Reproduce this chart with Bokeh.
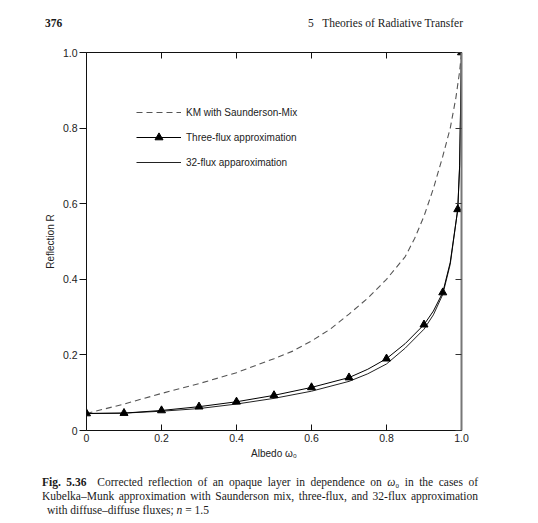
from bokeh.plotting import figure
from bokeh.models import (Range1d, LinearAxis, FixedTicker, PrintfTickFormatter,
                          Legend, LegendItem, Div)
from bokeh.layouts import column
from bokeh.embed import file_html
from bokeh.resources import INLINE

# ---- data ----
km_x = [0, 0.1, 0.2, 0.3, 0.4, 0.5, 0.55, 0.6, 0.65, 0.7, 0.75, 0.8, 0.85, 0.875,
        0.9, 0.925, 0.95, 0.97, 0.985, 0.995, 1.0]
km_r = [0.045, 0.070, 0.098, 0.124, 0.153, 0.190, 0.210, 0.237, 0.268, 0.308, 0.350, 0.400,
        0.460, 0.508, 0.567, 0.640, 0.725, 0.800, 0.880, 0.950, 1.0]

# three-flux markers
three_x = [0, 0.1, 0.2, 0.3, 0.4, 0.5, 0.6, 0.7, 0.8, 0.9, 0.95, 0.99, 1.0]
three_r = [0.045, 0.046, 0.053, 0.063, 0.076, 0.093, 0.114, 0.140, 0.190, 0.280, 0.365, 0.585, 1.0]
# three-flux curve
three_line_x = [0, 0.1, 0.2, 0.3, 0.4, 0.5, 0.6, 0.7, 0.75, 0.8, 0.85, 0.9, 0.925, 0.95,
                0.97, 0.99, 0.995, 1.0]
three_line_r = [0.045, 0.046, 0.053, 0.063, 0.076, 0.093, 0.114, 0.140, 0.162, 0.190, 0.230,
                0.280, 0.316, 0.365, 0.445, 0.585, 0.700, 1.0]

flux32_x = [0, 0.1, 0.2, 0.3, 0.4, 0.5, 0.6, 0.7, 0.75, 0.8, 0.85, 0.9, 0.925, 0.95, 0.97,
            0.99, 0.995, 1.0]
flux32_r = [0.045, 0.046, 0.051, 0.058, 0.070, 0.085, 0.104, 0.130, 0.150, 0.176, 0.218,
            0.268, 0.306, 0.360, 0.440, 0.585, 0.700, 1.0]

ticks = [0, 0.2, 0.4, 0.6, 0.8, 1.0]
label_km = "KM with Saunderson-Mix"
label_three = "Three-flux approximation"
label_32 = "32-flux apparoximation"

SANS = "Liberation Sans"
W = 530

p = figure(width=W, height=424, output_backend="svg", toolbar_location=None,
           x_range=Range1d(0, 1.0), y_range=Range1d(0, 1.0),
           min_border_left=86, min_border_right=69, min_border_top=14, min_border_bottom=32,
           x_axis_label="Albedo ω₀", y_axis_label="Reflection R")
p.outline_line_color = None
p.grid.visible = False
p.background_fill_color = "white"
p.border_fill_color = "white"

for ax in (p.xaxis[0], p.yaxis[0]):
    ax.ticker = FixedTicker(ticks=ticks)
    ax.formatter = PrintfTickFormatter(format="%.1f")
    ax.major_label_overrides = {0: "0"}
    ax.minor_tick_line_color = None
    ax.major_label_text_font = SANS
    ax.major_label_text_font_size = "10.5px"
    ax.major_label_text_color = "#222222"
    ax.axis_label_text_font = SANS
    ax.axis_label_text_font_size = "10px"
    ax.axis_label_text_font_style = "normal"
    ax.axis_label_text_color = "#222222"
    ax.axis_line_color = "#111111"
    ax.major_tick_line_color = "#111111"

p.xaxis.major_tick_in = 6
p.xaxis.major_tick_out = 0
p.xaxis.major_label_standoff = 3
p.xaxis.axis_label_standoff = 3
p.yaxis.major_tick_in = 0
p.yaxis.major_tick_out = 7
p.yaxis.major_label_standoff = 2
p.yaxis.axis_label_standoff = 4

top = LinearAxis(ticker=FixedTicker(ticks=ticks), major_tick_in=6, major_tick_out=0,
                 minor_tick_line_color=None, major_label_text_color=None,
                 axis_line_color="#111111", major_tick_line_color="#111111")
right = LinearAxis(ticker=FixedTicker(ticks=ticks), major_tick_in=6, major_tick_out=0,
                   minor_tick_line_color=None, major_label_text_color=None,
                   axis_line_color="#777777", axis_line_width=2,
                   major_tick_line_color="#333333")
p.add_layout(top, "above")
p.add_layout(right, "right")

r_km = p.line(km_x, km_r, line_color="#555555", line_width=1.1, line_dash="6 4")
r_32 = p.line(flux32_x, flux32_r, line_color="#222222", line_width=1)
r_3l = p.line(three_line_x, three_line_r, line_color="#000000", line_width=1)
r_3m = p.scatter(three_x, three_r, marker="triangle", size=8, fill_color="black",
                 line_color="black")

legend = Legend(items=[LegendItem(label=label_km, renderers=[r_km]),
                       LegendItem(label=label_three, renderers=[r_3l, r_3m]),
                       LegendItem(label=label_32, renderers=[r_32])],
                location="top_left", margin=50, padding=0, spacing=5,
                glyph_width=45, glyph_height=20, label_standoff=5,
                border_line_color=None, background_fill_alpha=0,
                label_text_font=SANS, label_text_font_size="10px",
                label_text_color="#222222")
p.add_layout(legend, "center")

serif_css = "font-family:'Liberation Serif',serif;font-size:11.5px;color:#1a1a1a;"

header = Div(width=W, height=38, margin=0, text=(
    f'<div style="position:relative;width:{W}px;height:38px;{serif_css}">'
    '<b style="position:absolute;left:45px;top:15px;">376</b>'
    f'<span style="position:absolute;right:{W - 463}px;top:15px;white-space:pre;">'
    '5   Theories of Radiative Transfer</span></div>'))

line_css = "white-space:nowrap;text-align:justify;text-align-last:justify;height:14px;line-height:14px;"
caption = Div(width=W, height=53, margin=0, text=(
    f'<div style="padding-top:13px;margin-left:42px;width:436px;{serif_css}">'
    f'<div style="{line_css}"><b>Fig. 5.36</b>&nbsp; Corrected reflection of an opaque layer '
    'in dependence on <i>ω</i>₀ in the cases of</div>'
    f'<div style="{line_css}">Kubelka–Munk approximation with Saunderson mix, three-flux, '
    'and 32-flux approximation</div>'
    '<div style="white-space:nowrap;height:14px;line-height:14px;padding-left:5px;">'
    'with diffuse–diffuse fluxes; <i>n</i> = 1.5</div></div>'))

layout = column(header, p, caption, spacing=0)
open("out.html", "w").write(file_html(layout, INLINE))
